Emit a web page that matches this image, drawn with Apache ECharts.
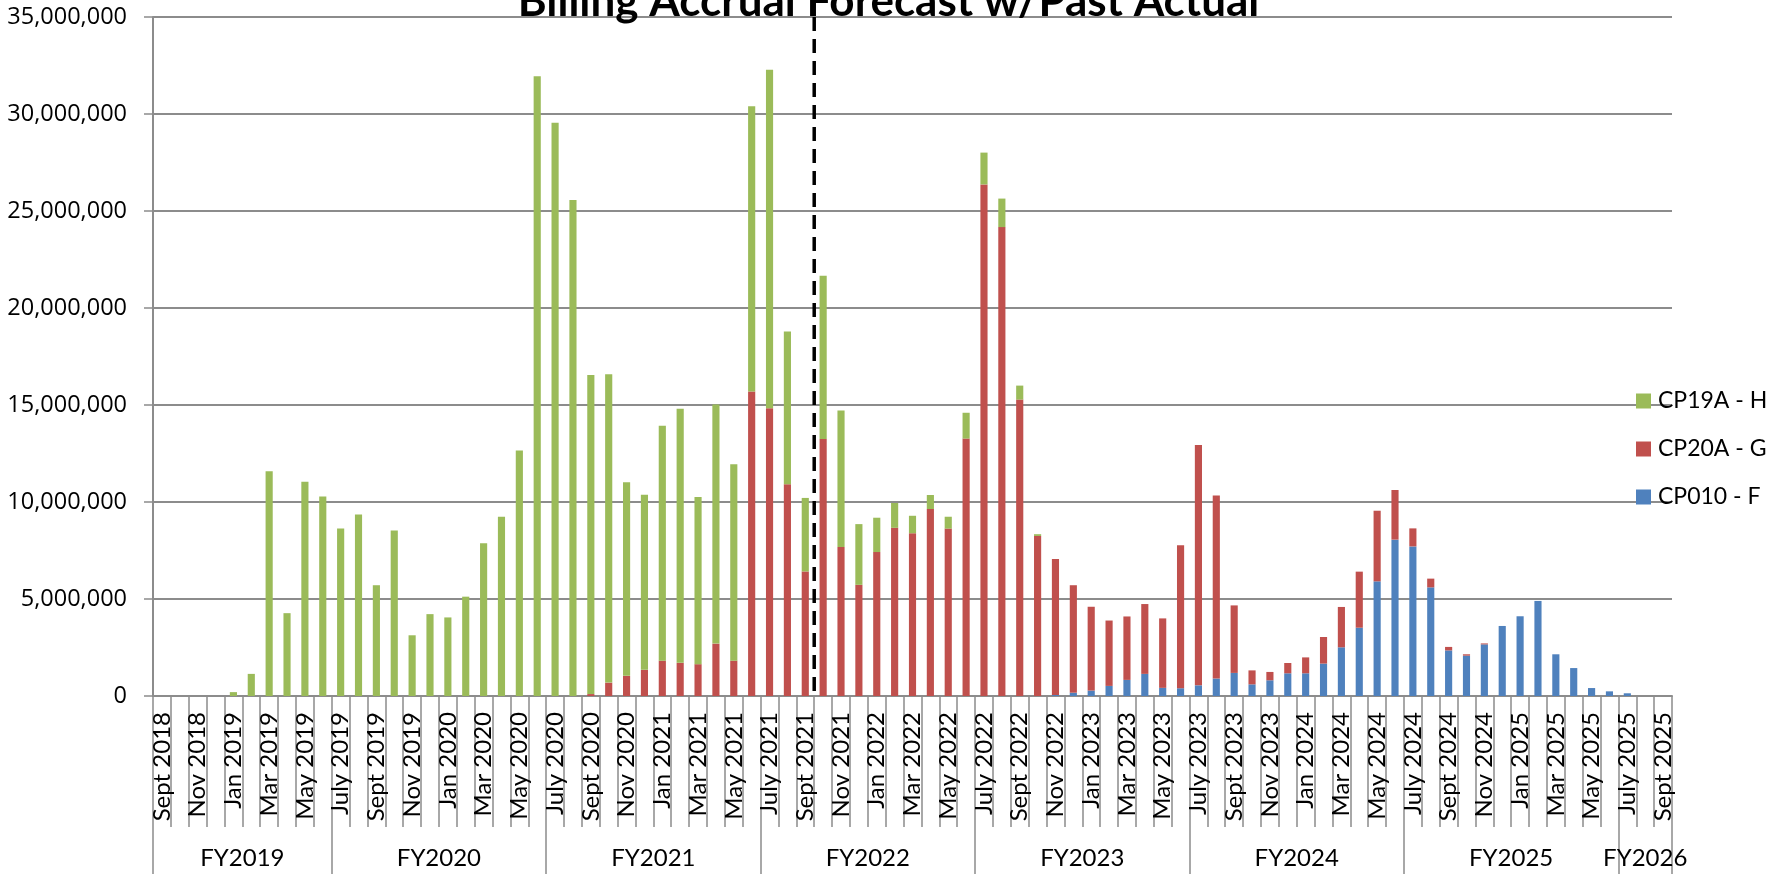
<!DOCTYPE html>
<html><head><meta charset="utf-8">
<script src="https://cdn.jsdelivr.net/npm/echarts@6/dist/echarts.min.js"></script>
<style>html,body{margin:0;padding:0;background:#fff}#chart{width:1777px;height:874px}</style>
</head><body><div id="chart"></div>
<script>
const months = [
  'Sept 2018','Oct 2018','Nov 2018','Dec 2018',
  'Jan 2019','Feb 2019','Mar 2019','Apr 2019','May 2019','June 2019','July 2019','Aug 2019','Sept 2019','Oct 2019','Nov 2019','Dec 2019',
  'Jan 2020','Feb 2020','Mar 2020','Apr 2020','May 2020','June 2020','July 2020','Aug 2020','Sept 2020','Oct 2020','Nov 2020','Dec 2020',
  'Jan 2021','Feb 2021','Mar 2021','Apr 2021','May 2021','June 2021','July 2021','Aug 2021','Sept 2021','Oct 2021','Nov 2021','Dec 2021',
  'Jan 2022','Feb 2022','Mar 2022','Apr 2022','May 2022','June 2022','July 2022','Aug 2022','Sept 2022','Oct 2022','Nov 2022','Dec 2022',
  'Jan 2023','Feb 2023','Mar 2023','Apr 2023','May 2023','June 2023','July 2023','Aug 2023','Sept 2023','Oct 2023','Nov 2023','Dec 2023',
  'Jan 2024','Feb 2024','Mar 2024','Apr 2024','May 2024','June 2024','July 2024','Aug 2024','Sept 2024','Oct 2024','Nov 2024','Dec 2024',
  'Jan 2025','Feb 2025','Mar 2025','Apr 2025','May 2025','June 2025','July 2025','Aug 2025','Sept 2025'
];
const fyLabels = ['FY2019','FY2020','FY2021','FY2022','FY2023','FY2024','FY2025','FY2026'];
const fyMonthCounts = [10,12,12,12,12,12,12,3];

const cp010F = [
  0,0,0,0,0,0,0,0,0,0,
  0,0,0,0,0,0,0,0,0,0,
  0,0,0,0,0,0,0,0,0,0,
  0,0,0,0,0,0,0,0,0,0,
  0,0,0,0,0,0,0,0,0,0,
  50000,170000,280000,520000,830000,1140000,420000,400000,550000,900000,
  1190000,600000,810000,1170000,1170000,1670000,2510000,3520000,5910000,8060000,
  7710000,5600000,2350000,2080000,2660000,3610000,4110000,4900000,2150000,1440000,
  410000,240000,140000,0,0
];
const cp20AG = [
  0,0,0,0,0,0,0,0,0,0,
  0,0,0,0,0,0,0,0,0,0,
  0,0,0,0,100000,690000,1040000,1350000,1820000,1710000,
  1640000,2700000,1820000,15690000,14830000,10920000,6420000,13250000,7680000,5730000,
  7420000,8670000,8390000,9640000,8630000,13270000,26370000,24170000,15280000,8250000,
  7010000,5540000,4320000,3370000,3270000,3600000,3580000,7370000,12390000,9440000,
  3480000,720000,430000,530000,820000,1370000,2080000,2890000,3640000,2560000,
  930000,450000,180000,70000,50000,0,0,0,0,0,
  0,0,0,0,0
];
const cp19AH = [
  0,0,0,0,200000,1140000,11590000,4270000,11040000,10280000,
  8630000,9360000,5710000,8530000,3130000,4220000,4050000,5120000,7870000,9240000,
  12650000,31940000,29550000,25570000,16440000,15900000,9980000,9030000,12110000,13100000,
  8620000,12320000,10120000,14710000,17450000,7870000,3790000,8410000,7040000,3130000,
  1770000,1280000,900000,720000,610000,1330000,1640000,1470000,720000,90000,
  0,0,0,0,0,0,0,0,0,0,
  0,0,0,0,0,0,0,0,0,0,
  0,0,0,0,0,0,0,0,0,0,
  0,0,0,0,0
];
const forecastBoundary = 37; // dashed line between Sept 2021 and Oct 2021

const fyBoundaries = [0];
const fyCenters = [];
fyMonthCounts.forEach(function (n, k) {
  const start = fyBoundaries[k];
  fyCenters.push(start + n / 2);
  fyBoundaries.push(start + n);
});
function fmt(v) { return String(v).replace(/\B(?=(\d{3})+(?!\d))/g, ','); }

const gridColor = '#8c8c8c';
const chart = echarts.init(document.getElementById('chart'));
chart.setOption({
  animation: false,
  backgroundColor: '#fff',
  title: {
    text: 'Billing Accrual Forecast w/Past Actual',
    left: 'center', top: -25,
    textStyle: { fontFamily: 'Lato', fontWeight: 'bold', fontSize: 44, color: '#000' }
  },
  legend: {
    data: ['CP19A - H', 'CP20A - G', 'CP010 - F'],
    orient: 'vertical', left: 1631, top: 384,
    icon: 'rect', itemWidth: 15, itemHeight: 15, itemGap: 24,
    textStyle: { fontFamily: 'Lato', fontSize: 23, color: '#000', lineHeight: 24, padding: [0, 0, 0, 2] }
  },
  grid: { left: 153, right: 105, top: 17, bottom: 178, containLabel: false },
  xAxis: [
    {
      type: 'category', data: months, position: 'bottom',
      axisLine: { lineStyle: { color: gridColor, width: 2 } },
      axisTick: { show: true, interval: 0, length: 131, lineStyle: { color: gridColor, width: 1.5 } },
      axisLabel: { interval: 1, rotate: 90, margin: 16, fontFamily: 'Lato', fontSize: 24, color: '#000' },
      splitLine: { show: false }
    },
    {
      type: 'value', min: 0, max: months.length, position: 'bottom',
      axisLine: { show: false },
      axisTick: { show: true, customValues: fyBoundaries, length: 180, lineStyle: { color: gridColor, width: 1.5 } },
      axisLabel: {
        customValues: fyCenters, margin: 150, fontFamily: 'Lato', fontSize: 24, color: '#000',
        formatter: function (v) { const k = fyCenters.indexOf(v); return k >= 0 ? fyLabels[k] : ''; }
      },
      splitLine: { show: false }
    }
  ],
  yAxis: {
    type: 'value', min: 0, max: 35000000, interval: 5000000,
    axisLine: { show: true, lineStyle: { color: gridColor, width: 2 } },
    axisTick: { show: true, length: 9, lineStyle: { color: gridColor, width: 1.5 } },
    axisLabel: { formatter: fmt, fontFamily: 'Open Sans', fontSize: 23.5, margin: 26, color: '#000' },
    splitLine: { lineStyle: { color: gridColor, width: 2 } }
  },
  series: [
    { name: 'CP010 - F', type: 'bar', stack: 'total', data: cp010F, barWidth: '40%', xAxisIndex: 0, itemStyle: { color: '#4F81BD' } },
    { name: 'CP20A - G', type: 'bar', stack: 'total', data: cp20AG, barWidth: '40%', xAxisIndex: 0, itemStyle: { color: '#C0504D' } },
    { name: 'CP19A - H', type: 'bar', stack: 'total', data: cp19AH, barWidth: '40%', xAxisIndex: 0, itemStyle: { color: '#9BBB59' } },
    {
      name: 'forecast', type: 'line', xAxisIndex: 1, yAxisIndex: 0,
      data: [[forecastBoundary, 35000000], [forecastBoundary, 0]],
      symbol: 'none', silent: true,
      lineStyle: { color: '#000', width: 3.5, type: [14, 8] }, z: 5
    }
  ]
});
</script>
</body></html>
